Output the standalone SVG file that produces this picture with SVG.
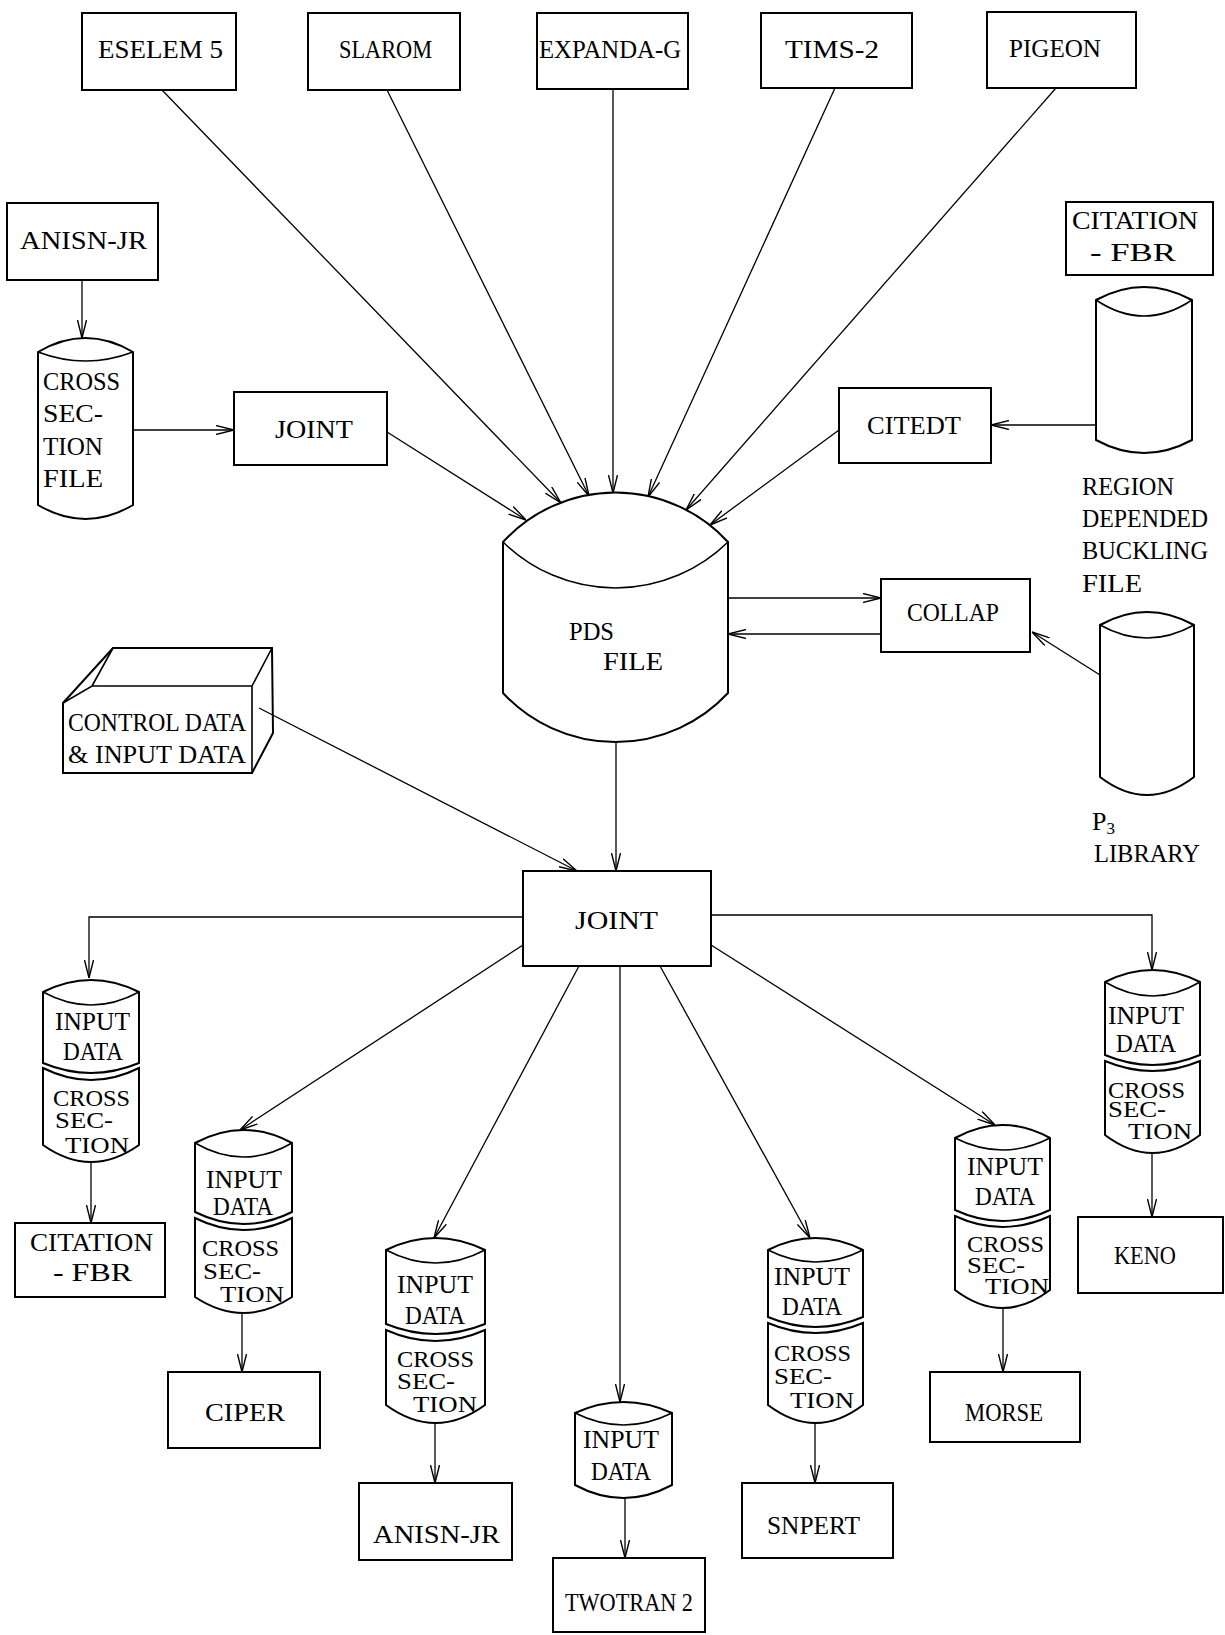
<svg xmlns="http://www.w3.org/2000/svg" width="1225" height="1635" viewBox="0 0 1225 1635">
<style>
.b{fill:#fff;stroke:#000;stroke-width:2}
.l{fill:none;stroke:#000;stroke-width:1.6}
.t{font-family:"Liberation Serif","DejaVu Serif",serif;font-size:26px;fill:#000}
.s{font-size:24px}
.c{fill:none;stroke:#000;stroke-width:1.3}
</style>
<defs>
<marker id="ah" viewBox="0 0 18 10" refX="18" refY="5" markerWidth="18" markerHeight="10" markerUnits="userSpaceOnUse" orient="auto">
<path d="M0,0.5 L18,5 L0,9.5" fill="none" stroke="#000" stroke-width="1.4"/>
</marker>
</defs>
<rect width="1225" height="1635" fill="#fff"/>

<g id="eselem5"><rect class="b" x="82" y="13" width="154" height="77"/><text class="t" x="98" y="58" textLength="125" lengthAdjust="spacingAndGlyphs">ESELEM 5</text></g>
<g id="slarom"><rect class="b" x="308" y="13" width="152" height="77"/><text class="t" x="339" y="58" textLength="93" lengthAdjust="spacingAndGlyphs">SLAROM</text></g>
<g id="expanda"><rect class="b" x="537" y="13" width="151" height="76"/><text class="t" x="539" y="58" textLength="142" lengthAdjust="spacingAndGlyphs">EXPANDA-G</text></g>
<g id="tims2"><rect class="b" x="761" y="13" width="151" height="75"/><text class="t" x="785" y="58" textLength="94" lengthAdjust="spacingAndGlyphs">TIMS-2</text></g>
<g id="pigeon"><rect class="b" x="987" y="12" width="149" height="76"/><text class="t" x="1009" y="57" textLength="92" lengthAdjust="spacingAndGlyphs">PIGEON</text></g>

<g id="anisn-top"><rect class="b" x="7" y="203" width="151" height="77"/><text class="t" x="20" y="249" textLength="127" lengthAdjust="spacingAndGlyphs">ANISN-JR</text></g>
<g id="xsec-file">
<path class="b" d="M38,352 Q85.5,324 133,352 L133,505 Q85.5,533 38,505 Z"/>
<path class="l" d="M38,352 Q85.5,370 133,352"/>
<text class="t" x="43" y="390" textLength="77" lengthAdjust="spacingAndGlyphs">CROSS</text><text class="t" x="43" y="422" textLength="60" lengthAdjust="spacingAndGlyphs">SEC-</text><text class="t" x="43" y="455" textLength="60" lengthAdjust="spacingAndGlyphs">TION</text><text class="t" x="43" y="487" textLength="60" lengthAdjust="spacingAndGlyphs">FILE</text>
</g>
<g id="joint-top"><rect class="b" x="234" y="392" width="153" height="73"/><text class="t" x="275" y="438" textLength="78" lengthAdjust="spacingAndGlyphs">JOINT</text></g>
<g id="citedt"><rect class="b" x="839" y="388" width="152" height="75"/><text class="t" x="867" y="434" textLength="94" lengthAdjust="spacingAndGlyphs">CITEDT</text></g>
<g id="citation-top"><rect class="b" x="1066" y="202" width="147" height="73"/><text class="t" x="1072" y="229" textLength="126" lengthAdjust="spacingAndGlyphs">CITATION</text><text class="t" x="1090" y="261" textLength="86" lengthAdjust="spacingAndGlyphs">- FBR</text></g>
<g id="region-file">
<path class="b" d="M1096,300 Q1144,274 1192,300 L1192,440 Q1144,466 1096,440 Z"/>
<path class="l" d="M1096,300 Q1144,332 1192,300"/>
<text class="t" x="1082" y="495" textLength="92" lengthAdjust="spacingAndGlyphs">REGION</text><text class="t" x="1082" y="527" textLength="126" lengthAdjust="spacingAndGlyphs">DEPENDED</text><text class="t" x="1082" y="559" textLength="126" lengthAdjust="spacingAndGlyphs">BUCKLING</text><text class="t" x="1082" y="592" textLength="60" lengthAdjust="spacingAndGlyphs">FILE</text>
</g>
<g id="pds-file">
<path class="b" d="M503,542 A152.5,152.5 0 0 1 728,542 L728,693 A153.6,153.6 0 0 1 503,693 Z"/>
<path class="l" d="M503,542 A160.6,160.6 0 0 0 728,542"/>
<text class="t" x="569" y="640" textLength="45" lengthAdjust="spacingAndGlyphs">PDS</text><text class="t" x="603" y="670" textLength="60" lengthAdjust="spacingAndGlyphs">FILE</text>
</g>
<g id="collap"><rect class="b" x="881" y="579" width="149" height="73"/><text class="t" x="907" y="621" textLength="92" lengthAdjust="spacingAndGlyphs">COLLAP</text></g>
<g id="p3-library">
<path class="b" d="M1100,625 Q1147,599 1194,625 L1194,777 Q1147,813 1100,777 Z"/>
<path class="l" d="M1100,625 Q1147,651 1194,625"/>
<text class="t" x="1092" y="830">P<tspan font-size="17" dy="4">3</tspan></text>
<text class="t" x="1094" y="862" textLength="106" lengthAdjust="spacingAndGlyphs">LIBRARY</text>
</g>
<g id="control-data">
<path class="b" d="M63,703 L113,648 L272,648 L273,733 L252,773 L63,773 Z"/>
<path class="l" d="M63,703 L92,686 L252,686 L252,773 M252,686 L272,648 M92,686 L113,648"/>
<text class="t" x="68" y="731" textLength="178" lengthAdjust="spacingAndGlyphs">CONTROL DATA</text><text class="t" x="68" y="763" textLength="178" lengthAdjust="spacingAndGlyphs">&amp; INPUT DATA</text>
</g>
<g id="joint"><rect class="b" x="523" y="871" width="188" height="95"/><text class="t" x="575" y="929" textLength="83" lengthAdjust="spacingAndGlyphs">JOINT</text></g>

<g id="stack-citation">
<path class="b" d="M43,1068 Q91,1092 139,1068 L139,1145 Q91,1179 43,1145 Z"/>
<path class="b" d="M43,992 Q91,968 139,992 L139,1063 Q91,1083 43,1063 Z"/>
<path class="l" d="M43,992 Q91,1018 139,992"/>
<text class="t" x="55" y="1030" textLength="75" lengthAdjust="spacingAndGlyphs">INPUT</text><text class="t" x="63" y="1060" textLength="60" lengthAdjust="spacingAndGlyphs">DATA</text>
<text class="t s" x="53" y="1106" textLength="77" lengthAdjust="spacingAndGlyphs">CROSS</text><text class="t s" x="55" y="1128" textLength="58" lengthAdjust="spacingAndGlyphs">SEC-</text><text class="t s" x="65" y="1153" textLength="64" lengthAdjust="spacingAndGlyphs">TION</text>
</g>
<g id="citation-fbr"><rect class="b" x="15" y="1223" width="150" height="74"/><text class="t" x="30" y="1251" textLength="123" lengthAdjust="spacingAndGlyphs">CITATION</text><text class="t" x="53" y="1281" textLength="79" lengthAdjust="spacingAndGlyphs">- FBR</text></g>

<g id="stack-ciper">
<path class="b" d="M195,1218 Q243.5,1242 292,1218 L292,1297 Q243.5,1329 195,1297 Z"/>
<path class="b" d="M195,1143 Q243.5,1117 292,1143 L292,1212 Q243.5,1236 195,1212 Z"/>
<path class="l" d="M195,1143 Q243.5,1171 292,1143"/>
<text class="t" x="206" y="1188" textLength="76" lengthAdjust="spacingAndGlyphs">INPUT</text><text class="t" x="213" y="1215" textLength="60" lengthAdjust="spacingAndGlyphs">DATA</text>
<text class="t s" x="202" y="1256" textLength="77" lengthAdjust="spacingAndGlyphs">CROSS</text><text class="t s" x="203" y="1279" textLength="58" lengthAdjust="spacingAndGlyphs">SEC-</text><text class="t s" x="220" y="1302" textLength="64" lengthAdjust="spacingAndGlyphs">TION</text>
</g>
<g id="ciper"><rect class="b" x="168" y="1372" width="152" height="76"/><text class="t" x="205" y="1421" textLength="80" lengthAdjust="spacingAndGlyphs">CIPER</text></g>

<g id="stack-anisn">
<path class="b" d="M386,1330 Q435.5,1352 485,1330 L485,1405 Q435.5,1441 386,1405 Z"/>
<path class="b" d="M386,1250 Q435.5,1226 485,1250 L485,1324 Q435.5,1344 386,1324 Z"/>
<path class="l" d="M386,1250 Q435.5,1276 485,1250"/>
<text class="t" x="397" y="1293" textLength="76" lengthAdjust="spacingAndGlyphs">INPUT</text><text class="t" x="405" y="1324" textLength="60" lengthAdjust="spacingAndGlyphs">DATA</text>
<text class="t s" x="397" y="1367" textLength="77" lengthAdjust="spacingAndGlyphs">CROSS</text><text class="t s" x="397" y="1389" textLength="58" lengthAdjust="spacingAndGlyphs">SEC-</text><text class="t s" x="413" y="1412" textLength="64" lengthAdjust="spacingAndGlyphs">TION</text>
</g>
<g id="anisn-jr"><rect class="b" x="359" y="1483" width="153" height="77"/><text class="t" x="373" y="1543" textLength="127" lengthAdjust="spacingAndGlyphs">ANISN-JR</text></g>

<g id="stack-twotran">
<path class="b" d="M575,1413 Q623.5,1391 672,1413 L672,1485 Q623.5,1511 575,1485 Z"/>
<path class="l" d="M575,1413 Q623.5,1437 672,1413"/>
<text class="t" x="583" y="1448" textLength="76" lengthAdjust="spacingAndGlyphs">INPUT</text><text class="t" x="591" y="1480" textLength="60" lengthAdjust="spacingAndGlyphs">DATA</text>
</g>
<g id="twotran2"><rect class="b" x="553" y="1558" width="152" height="74"/><text class="t" x="565" y="1611" textLength="128" lengthAdjust="spacingAndGlyphs">TWOTRAN 2</text></g>

<g id="stack-snpert">
<path class="b" d="M768,1323 Q815.5,1343 863,1323 L863,1405 Q815.5,1441 768,1405 Z"/>
<path class="b" d="M768,1250 Q815.5,1226 863,1250 L863,1317 Q815.5,1337 768,1317 Z"/>
<path class="l" d="M768,1250 Q815.5,1274 863,1250"/>
<text class="t" x="774" y="1285" textLength="76" lengthAdjust="spacingAndGlyphs">INPUT</text><text class="t" x="782" y="1315" textLength="60" lengthAdjust="spacingAndGlyphs">DATA</text>
<text class="t s" x="774" y="1361" textLength="77" lengthAdjust="spacingAndGlyphs">CROSS</text><text class="t s" x="774" y="1384" textLength="58" lengthAdjust="spacingAndGlyphs">SEC-</text><text class="t s" x="790" y="1408" textLength="64" lengthAdjust="spacingAndGlyphs">TION</text>
</g>
<g id="snpert"><rect class="b" x="742" y="1483" width="151" height="75"/><text class="t" x="767" y="1534" textLength="93" lengthAdjust="spacingAndGlyphs">SNPERT</text></g>

<g id="stack-morse">
<path class="b" d="M955,1216 Q1002.5,1238 1050,1216 L1050,1290 Q1002.5,1326 955,1290 Z"/>
<path class="b" d="M955,1138 Q1002.5,1112 1050,1138 L1050,1210 Q1002.5,1232 955,1210 Z"/>
<path class="l" d="M955,1138 Q1002.5,1162 1050,1138"/>
<text class="t" x="967" y="1175" textLength="76" lengthAdjust="spacingAndGlyphs">INPUT</text><text class="t" x="975" y="1205" textLength="60" lengthAdjust="spacingAndGlyphs">DATA</text>
<text class="t s" x="967" y="1252" textLength="77" lengthAdjust="spacingAndGlyphs">CROSS</text><text class="t s" x="967" y="1273" textLength="58" lengthAdjust="spacingAndGlyphs">SEC-</text><text class="t s" x="985" y="1294" textLength="64" lengthAdjust="spacingAndGlyphs">TION</text>
</g>
<g id="morse"><rect class="b" x="930" y="1372" width="150" height="70"/><text class="t" x="965" y="1421" textLength="78" lengthAdjust="spacingAndGlyphs">MORSE</text></g>

<g id="stack-keno">
<path class="b" d="M1105,1061 Q1152.5,1081 1200,1061 L1200,1135 Q1152.5,1171 1105,1135 Z"/>
<path class="b" d="M1105,982 Q1152.5,958 1200,982 L1200,1055 Q1152.5,1075 1105,1055 Z"/>
<path class="l" d="M1105,982 Q1152.5,1010 1200,982"/>
<text class="t" x="1108" y="1024" textLength="76" lengthAdjust="spacingAndGlyphs">INPUT</text><text class="t" x="1116" y="1052" textLength="60" lengthAdjust="spacingAndGlyphs">DATA</text>
<text class="t s" x="1108" y="1098" textLength="77" lengthAdjust="spacingAndGlyphs">CROSS</text><text class="t s" x="1108" y="1117" textLength="58" lengthAdjust="spacingAndGlyphs">SEC-</text><text class="t s" x="1128" y="1139" textLength="64" lengthAdjust="spacingAndGlyphs">TION</text>
</g>
<g id="keno"><rect class="b" x="1078" y="1217" width="145" height="76"/><text class="t" x="1114" y="1264" textLength="62" lengthAdjust="spacingAndGlyphs">KENO</text></g>

<g id="connectors">
<path class="c" marker-end="url(#ah)" d="M82,280 L82,338"/>
<path class="c" marker-end="url(#ah)" d="M133,430 L234,430"/>
<path class="c" marker-end="url(#ah)" d="M387,432 L526,520"/>
<path class="c" marker-end="url(#ah)" d="M162,90 L561,503"/>
<path class="c" marker-end="url(#ah)" d="M387,90 L589,496"/>
<path class="c" marker-end="url(#ah)" d="M613,89 L613,493"/>
<path class="c" marker-end="url(#ah)" d="M835,88 L648,497"/>
<path class="c" marker-end="url(#ah)" d="M1056,88 L686,510"/>
<path class="c" marker-end="url(#ah)" d="M839,430 L710,525"/>
<path class="c" marker-end="url(#ah)" d="M1096,425 L991,425"/>
<path class="c" marker-end="url(#ah)" d="M728,598 L881,598"/>
<path class="c" marker-end="url(#ah)" d="M881,634 L728,634"/>
<path class="c" marker-end="url(#ah)" d="M1100,675 L1032,632"/>
<path class="c" marker-end="url(#ah)" d="M616,742 L616,871"/>
<path class="c" marker-end="url(#ah)" d="M259,708 L577,871"/>
<path class="c" marker-end="url(#ah)" d="M523,917 L89,917 L89,978"/>
<path class="c" marker-end="url(#ah)" d="M711,915 L1152,915 L1152,970"/>
<path class="c" marker-end="url(#ah)" d="M523,945 L240,1130"/>
<path class="c" marker-end="url(#ah)" d="M579,966 L434,1238"/>
<path class="c" marker-end="url(#ah)" d="M620,966 L620,1402"/>
<path class="c" marker-end="url(#ah)" d="M660,966 L810,1238"/>
<path class="c" marker-end="url(#ah)" d="M711,945 L995,1125"/>
<path class="c" marker-end="url(#ah)" d="M91,1162 L91,1223"/>
<path class="c" marker-end="url(#ah)" d="M242,1313 L242,1372"/>
<path class="c" marker-end="url(#ah)" d="M435,1423 L435,1483"/>
<path class="c" marker-end="url(#ah)" d="M625,1498 L625,1558"/>
<path class="c" marker-end="url(#ah)" d="M815,1423 L815,1483"/>
<path class="c" marker-end="url(#ah)" d="M1003,1308 L1003,1372"/>
<path class="c" marker-end="url(#ah)" d="M1152,1153 L1152,1217"/>
</g>
</svg>
